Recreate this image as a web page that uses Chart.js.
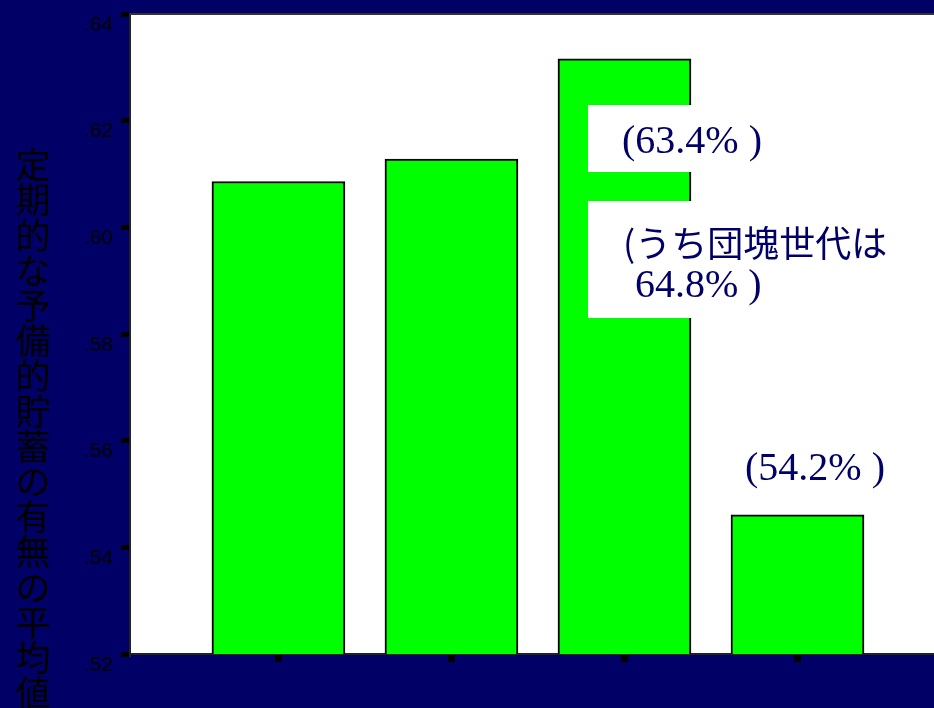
<!DOCTYPE html>
<html>
<head>
<meta charset="utf-8">
<script src="https://cdn.jsdelivr.net/npm/chart.js@4.4.0/dist/chart.umd.min.js"></script>
<style>
html,body{margin:0;padding:0;background:#000066;overflow:hidden;}
canvas{display:block;}
</style>
</head>
<body>
<canvas id="savingsChart" width="934" height="708"></canvas>
<script>
(function () {

/* ----------- DATA ----------- */

const categories = [1, 2, 3, 4];
const meanValues = [0.6086, 0.6128, 0.6316, 0.5461];

const yTicks = [0.52, 0.54, 0.56, 0.58, 0.60, 0.62, 0.64];
const yTickLabels = ['.52', '.54', '.56', '.58', '.60', '.62', '.64'];

const yTitle = '定期的な予備的貯蓄の有無の平均値';

const notes = ['(63.4% )', '(うち団塊世代は', '64.8% )', '(54.2% )'];

const NAVY = '#000066';

/* ----------- PLUGIN: background, frame, title, notes ----------- */

const decorations = {
id: 'decorations',

beforeDraw(chart){
const {ctx, chartArea:a} = chart;
ctx.save();
ctx.fillStyle = NAVY;
ctx.fillRect(0, 0, chart.width, chart.height);
ctx.fillStyle = '#fff';
ctx.fillRect(a.left, a.top, a.right - a.left, a.bottom - a.top);
ctx.restore();
},

afterDatasetsDraw(chart){
const {ctx, chartArea:a} = chart;
ctx.save();

/* top frame line */
ctx.strokeStyle = '#333';
ctx.lineWidth = 2;
ctx.beginPath();
ctx.moveTo(a.left, a.top);
ctx.lineTo(a.right, a.top);
ctx.stroke();

/* white note boxes over the third bar */
ctx.fillStyle = '#fff';
ctx.fillRect(588, 105, 320, 67);
ctx.fillRect(588, 201, 320, 117);

ctx.fillStyle = NAVY;
ctx.textBaseline = 'alphabetic';
ctx.font = '40px "Liberation Serif"';
ctx.fillText(notes[0], 622, 153);
ctx.fillText(notes[2], 635, 297);
ctx.fillText(notes[3], 745, 480);

ctx.font = '36px "Noto Sans CJK JP"';
ctx.textBaseline = 'middle';
ctx.fillText(notes[1], 623, 243);

/* vertical y title, upright characters */
ctx.fillStyle = '#000';
ctx.font = '35px "Noto Sans CJK JP"';
ctx.textAlign = 'center';
ctx.textBaseline = 'middle';
Array.from(yTitle).forEach((ch, i) => {
ctx.fillText(ch, 33, 165 + i * 35.2);
});

ctx.restore();
}
};

/* ----------- CHART ----------- */

const ctx = document.getElementById('savingsChart').getContext('2d');

new Chart(ctx, {
type: 'bar',
data: {
datasets: [{
data: categories.map((c, i) => ({x: c, y: meanValues[i]})),
backgroundColor: '#00ff00',
borderColor: '#000',
borderWidth: 2,
barThickness: 133
}]
},
options: {
responsive: false,
animation: false,
devicePixelRatio: 1,
layout: {padding: {top: 14, right: 0, left: 0, bottom: 0}},
scales: {
x: {
type: 'linear',
offset: false,
min: 0.142,
max: 4.789,
afterBuildTicks: s => { s.ticks = categories.map(v => ({value: v})); },
afterFit: s => { s.height = 54; s.paddingLeft = 0; s.paddingRight = 0; },
ticks: {display: false},
grid: {offset: false, drawOnChartArea: false, color: '#000', lineWidth: 7, tickLength: 8},
border: {color: '#222', width: 2}
},
y: {
min: 0.52,
max: 0.64,
afterBuildTicks: s => { s.ticks = yTicks.map(v => ({value: v})); },
afterFit: s => { s.width = 130; s.paddingTop = 0; s.paddingBottom = 0; },
ticks: {
color: '#000',
font: {family: 'Liberation Sans', size: 21},
padding: 8,
labelOffset: 11,
callback: (v, i) => yTickLabels[i]
},
grid: {drawOnChartArea: false, color: '#000', lineWidth: 5, tickLength: 9},
border: {color: '#222', width: 2}
}
},
plugins: {
legend: {display: false},
tooltip: {enabled: false}
}
},
plugins: [decorations]
});

})();
</script>
</body>
</html>
